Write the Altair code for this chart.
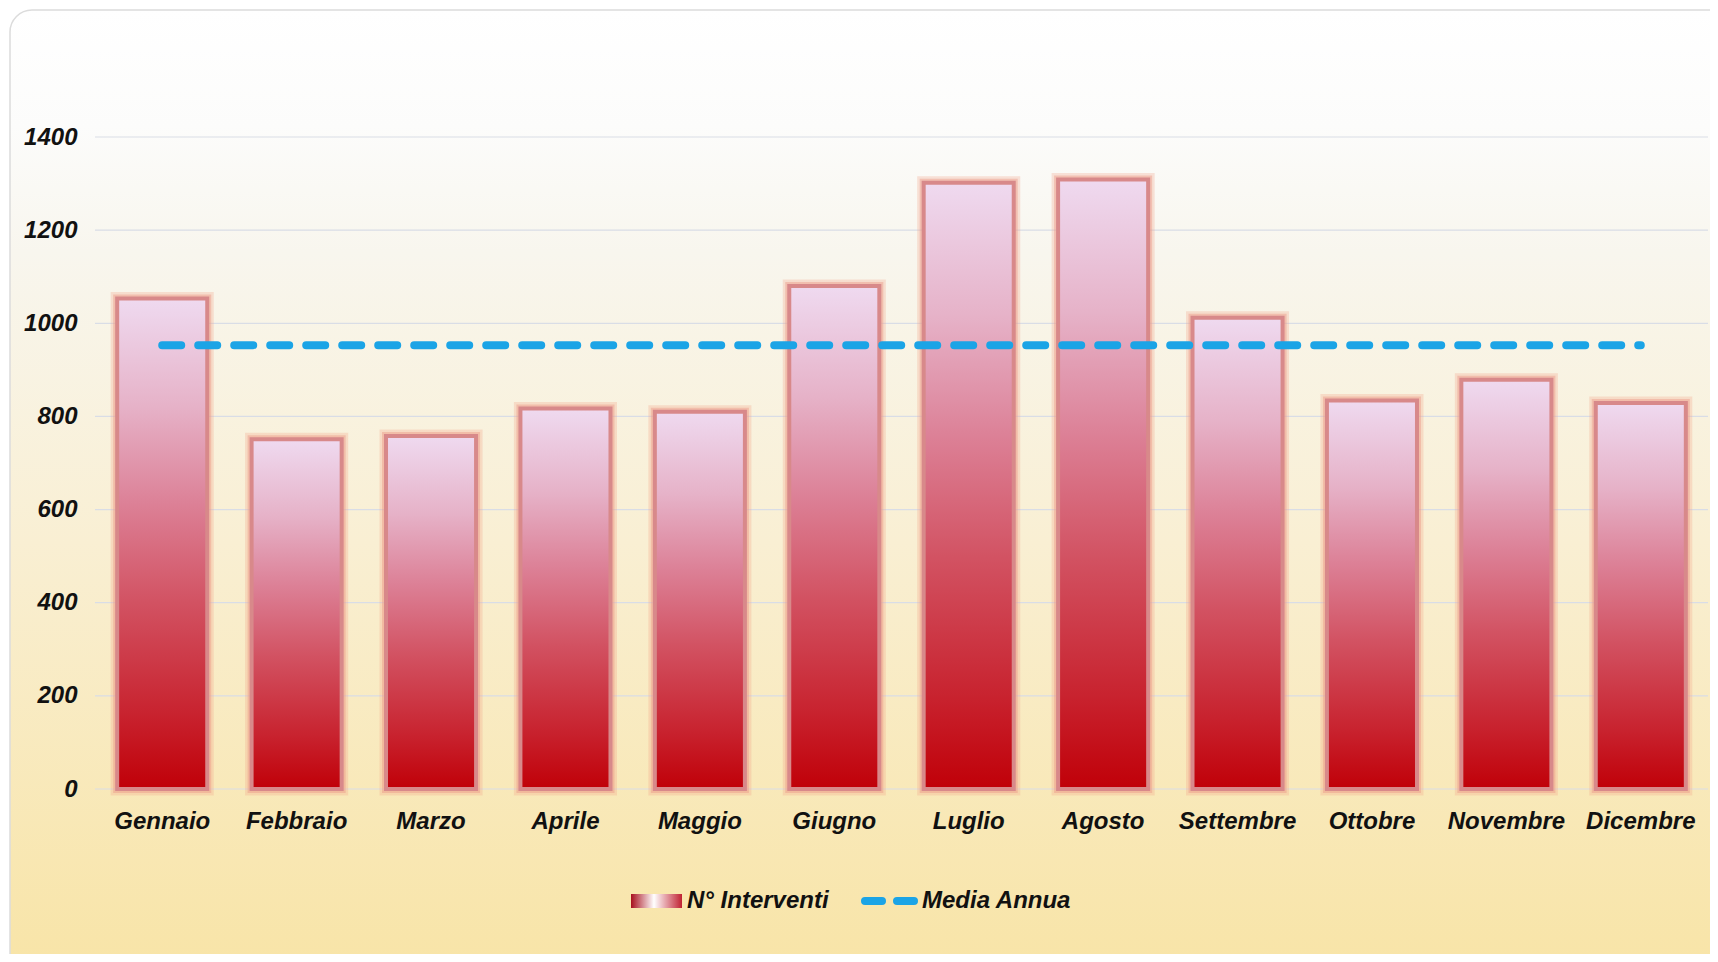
import altair as alt
import pandas as pd

# ---- data ----
MESI = ["Gennaio", "Febbraio", "Marzo", "Aprile", "Maggio", "Giugno",
        "Luglio", "Agosto", "Settembre", "Ottobre", "Novembre", "Dicembre"]
INTERVENTI = [1053, 751, 758, 817, 810, 1080, 1302, 1309, 1012, 834, 879, 829]
MEDIA_ANNUA = 953
Y_TICKS = [0, 200, 400, 600, 800, 1000, 1200, 1400]
LEGEND_LABELS = ["N° Interventi", "Media Annua"]

W, H = 1613, 652
FONT = "Liberation Sans"

df = pd.DataFrame({"mese": MESI, "interventi": INTERVENTI,
                   "media": [MEDIA_ANNUA] * len(MESI)})
grid_df = pd.DataFrame({"tick": Y_TICKS})
one = pd.DataFrame({"k": [0]})

x_enc = alt.X(
    "mese:N", sort=MESI,
    scale=alt.Scale(paddingInner=0.33, paddingOuter=0.165),
    axis=alt.Axis(title=None, labelAngle=0, labelFont=FONT, labelFontSize=24,
                  labelFontWeight="bold", labelFontStyle="italic",
                  labelColor="#111111", labelPadding=20, ticks=False,
                  domain=False, grid=False, zindex=1),
)
y_scale = alt.Scale(domain=[0, 1400], nice=False)
y_axis = alt.Axis(title=None, values=Y_TICKS, format="d", labelFont=FONT,
                  labelFontSize=24, labelFontWeight="bold", labelFontStyle="italic",
                  labelColor="#111111", labelPadding=18, ticks=False,
                  domain=False, grid=False, zindex=1)

bg = alt.Chart(one).mark_rect(
    fill=alt.LinearGradient(
        gradient="linear", x1=0, x2=0, y1=0, y2=1,
        stops=[alt.GradientStop(color="#ffffff", offset=0),
               alt.GradientStop(color="#fcfcfb", offset=0.12),
               alt.GradientStop(color="#f8f6ee", offset=0.25),
               alt.GradientStop(color="#f9efd3", offset=0.55),
               alt.GradientStop(color="#f8e4a6", offset=1)]),
    stroke="#dcdcdc", strokeWidth=1.5, cornerRadius=22,
).encode(x=alt.value(-85), x2=alt.value(1660), y=alt.value(-127), y2=alt.value(840))

grid = alt.Chart(grid_df).mark_rule(color="#d9dde6", strokeWidth=1.2).encode(
    y=alt.Y("tick:Q", scale=y_scale, axis=y_axis),
    x=alt.value(0), x2=alt.value(W),
)

bar_grad = alt.LinearGradient(
    gradient="linear", x1=0, x2=0, y1=1, y2=0,
    stops=[alt.GradientStop(color="#c00008", offset=0),
           alt.GradientStop(color="#c8222e", offset=0.15),
           alt.GradientStop(color="#d25262", offset=0.38),
           alt.GradientStop(color="#dc8096", offset=0.58),
           alt.GradientStop(color="#e6b2c8", offset=0.78),
           alt.GradientStop(color="#efdaf0", offset=1)])

glow = alt.Chart(df).mark_bar(
    fill=bar_grad, stroke="#f2a48c", strokeWidth=13, strokeOpacity=0.3,
).encode(x=x_enc, y=alt.Y("interventi:Q", scale=y_scale, axis=y_axis))

glow2 = alt.Chart(df).mark_bar(
    fill=bar_grad, stroke="#ea9a88", strokeWidth=8, strokeOpacity=0.45,
).encode(x=x_enc, y=alt.Y("interventi:Q", scale=y_scale, axis=y_axis))

bars = alt.Chart(df).mark_bar(
    fill=bar_grad, stroke="#d8898a", strokeWidth=4,
).encode(x=x_enc, y=alt.Y("interventi:Q", scale=y_scale, axis=y_axis))

media = alt.Chart(df).mark_line(
    color="#1ba4e6", strokeWidth=8, strokeDash=[19, 17], strokeCap="round",
).encode(x=x_enc, y=alt.Y("media:Q", scale=y_scale, axis=y_axis))

leg_rect = alt.Chart(one).mark_rect(
    fill=alt.LinearGradient(
        gradient="linear", x1=0, x2=1, y1=0, y2=0,
        stops=[alt.GradientStop(color="#a8101e", offset=0),
               alt.GradientStop(color="#ffffff", offset=0.45),
               alt.GradientStop(color="#c02232", offset=1)]),
).encode(x=alt.value(536), x2=alt.value(587), y=alt.value(757), y2=alt.value(771))

leg_txt1 = alt.Chart(one).mark_text(
    align="left", baseline="middle", font=FONT, fontSize=24,
    fontWeight="bold", fontStyle="italic", color="#111111",
).encode(x=alt.value(592), y=alt.value(764), text=alt.value(LEGEND_LABELS[0]))

leg_dash = alt.Chart(one).mark_rule(
    color="#1ba4e6", strokeWidth=8, strokeDash=[17, 15], strokeCap="round",
).encode(x=alt.value(770), x2=alt.value(819), y=alt.value(764))

leg_txt2 = alt.Chart(one).mark_text(
    align="left", baseline="middle", font=FONT, fontSize=24,
    fontWeight="bold", fontStyle="italic", color="#111111",
).encode(x=alt.value(827), y=alt.value(764), text=alt.value(LEGEND_LABELS[1]))

chart = alt.layer(
    bg, grid, glow, glow2, bars, media, leg_rect, leg_txt1, leg_dash, leg_txt2
).properties(
    width=W, height=H,
    padding={"left": 87, "top": 129, "right": 2, "bottom": 165},
    autosize=alt.AutoSizeParams(type="none"),
).configure_view(stroke=None).configure(background="#ffffff")

chart.save("out.html", embed_options={"renderer": "svg", "actions": False})
